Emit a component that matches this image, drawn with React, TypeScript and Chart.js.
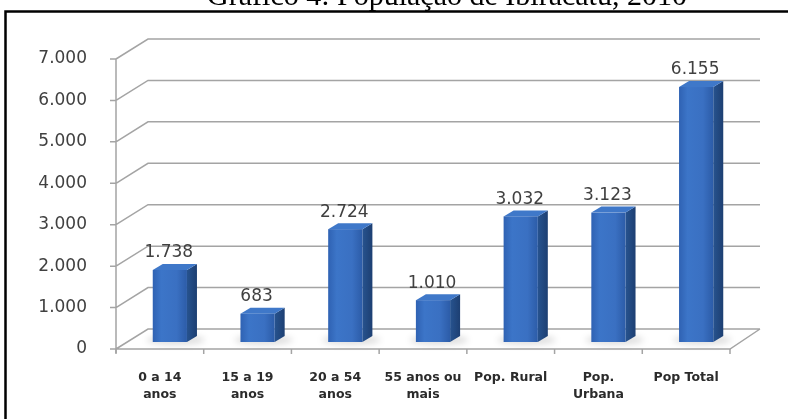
import React, { useEffect, useRef } from 'react';
import { Chart, registerables } from 'chart.js';

Chart.register(...registerables);

const TITLE = 'Gráfico 4: População de Ibiracatu, 2010';
const categories: string[][] = [
  ['0 a 14', 'anos'],
  ['15 a 19', 'anos'],
  ['20 a 54', 'anos'],
  ['55 anos ou', 'mais'],
  ['Pop. Rural'],
  ['Pop.', 'Urbana'],
  ['Pop Total'],
];
const values: number[] = [1738, 683, 2724, 1010, 3032, 3123, 6155];
const Y_MIN = 0;
const Y_MAX = 7000;
const Y_STEP = 1000;

const fmt = (v: number) => String(Math.round(v)).replace(/\B(?=(\d{3})+(?!\d))/g, '.');

// 3D geometry (pixels)
const WALL_DXL = 32;
const WALL_DXR = 30;
const WALL_DY = 20;
const BAR_SHIFT_X = 10;
const BAR_SHIFT_Y = -7;
const BAR_DX = 10;
const BAR_DY = 6;

const scenePlugin = {
  id: 'scene3d',
  beforeDraw(chart: any) {
    const { ctx, chartArea: a, scales } = chart;
    const y = scales.y;
    const x = scales.x;
    ctx.save();
    // title
    ctx.fillStyle = '#000';
    ctx.font = '30px "Liberation Serif", "Times New Roman", serif';
    ctx.textAlign = 'center';
    ctx.textBaseline = 'alphabetic';
    ctx.fillText(TITLE, 447, 5);
    // frame
    ctx.strokeStyle = '#000';
    ctx.lineWidth = 2.5;
    ctx.beginPath();
    ctx.moveTo(5.5, chart.height + 5);
    ctx.lineTo(5.5, 11.5);
    ctx.lineTo(chart.width + 5, 11.5);
    ctx.stroke();

    // back wall gridlines with left wall diagonals
    ctx.strokeStyle = '#a4a4a4';
    ctx.lineWidth = 1.5;
    ctx.beginPath();
    y.ticks.forEach((t: any) => {
      const py = y.getPixelForValue(t.value);
      ctx.moveTo(a.left, py);
      ctx.lineTo(a.left + WALL_DXL, py - WALL_DY);
      ctx.lineTo(a.right + WALL_DXR, py - WALL_DY);
    });
    // floor front and right edges
    const by = y.getPixelForValue(Y_MIN);
    ctx.moveTo(a.left, by);
    ctx.lineTo(a.right, by);
    ctx.lineTo(a.right + WALL_DXR, by - WALL_DY);
    // front y axis
    ctx.moveTo(a.left, y.getPixelForValue(Y_MAX));
    ctx.lineTo(a.left, by + 4);
    ctx.stroke();
    // y tick marks
    ctx.beginPath();
    y.ticks.forEach((t: any) => {
      const py = y.getPixelForValue(t.value);
      ctx.moveTo(a.left - 6, py);
      ctx.lineTo(a.left, py);
    });
    // x tick marks at category boundaries
    const n = categories.length;
    for (let i = 0; i <= n; i++) {
      const px = i === 0 ? a.left : i === n ? a.right : (x.getPixelForValue(i - 1) + x.getPixelForValue(i)) / 2;
      ctx.moveTo(px, by);
      ctx.lineTo(px, by + 5);
    }
    ctx.stroke();
    ctx.restore();
  },
  afterDatasetsDraw(chart: any) {
    const { ctx } = chart;
    const meta = chart.getDatasetMeta(0);
    ctx.save();
    // floor shadows
    meta.data.forEach((el: any) => {
      const w = el.width;
      const cx = el.x + BAR_SHIFT_X + 6;
      const cy = el.base + BAR_SHIFT_Y - 2;
      ctx.save();
      ctx.filter = 'blur(3px)';
      ctx.fillStyle = 'rgba(0,0,0,0.13)';
      ctx.beginPath();
      ctx.ellipse(cx, cy, w * 0.85, 5, 0, 0, Math.PI * 2);
      ctx.fill();
      ctx.restore();
    });
    meta.data.forEach((el: any, i: number) => {
      const w = el.width;
      const fx = el.x + BAR_SHIFT_X - w / 2;
      const top = el.y + BAR_SHIFT_Y;
      const base = el.base + BAR_SHIFT_Y;
      // side face
      const sg = ctx.createLinearGradient(fx + w, 0, fx + w + BAR_DX, 0);
      sg.addColorStop(0, '#27538f');
      sg.addColorStop(1, '#1d3f72');
      ctx.fillStyle = sg;
      ctx.beginPath();
      ctx.moveTo(fx + w, top);
      ctx.lineTo(fx + w + BAR_DX, top - BAR_DY);
      ctx.lineTo(fx + w + BAR_DX, base - BAR_DY);
      ctx.lineTo(fx + w, base);
      ctx.closePath();
      ctx.fill();
      // top face
      ctx.fillStyle = '#3f78c9';
      ctx.beginPath();
      ctx.moveTo(fx, top);
      ctx.lineTo(fx + BAR_DX, top - BAR_DY);
      ctx.lineTo(fx + w + BAR_DX, top - BAR_DY);
      ctx.lineTo(fx + w, top);
      ctx.closePath();
      ctx.fill();
      // front face
      const fg = ctx.createLinearGradient(fx, 0, fx + w, 0);
      fg.addColorStop(0, '#2f62b3');
      fg.addColorStop(0.25, '#3c75c8');
      fg.addColorStop(0.7, '#3a70c2');
      fg.addColorStop(1, '#2c5ca8');
      ctx.fillStyle = fg;
      ctx.fillRect(fx, top, w, base - top);
      // value label
      ctx.fillStyle = '#404040';
      ctx.font = '17px "DejaVu Sans", sans-serif';
      ctx.textAlign = 'center';
      ctx.textBaseline = 'middle';
      ctx.fillText(fmt(values[i]), el.x + BAR_SHIFT_X - 1, top - 17);
    });
    ctx.restore();
  },
};

export default function App() {
  const ref = useRef<HTMLCanvasElement | null>(null);
  useEffect(() => {
    document.body.style.margin = '0';
    const canvas = ref.current;
    if (!canvas) return;
    const chart = new Chart(canvas, {
      type: 'bar',
      data: {
        labels: categories,
        datasets: [
          {
            data: values,
            backgroundColor: 'rgba(0,0,0,0)',
            borderWidth: 0,
            categoryPercentage: 1,
            barPercentage: 0.39,
          },
        ],
      },
      options: {
        responsive: false,
        animation: false,
        devicePixelRatio: 1,
        layout: { padding: { left: 0, top: 59, right: 58, bottom: 0 } },
        plugins: {
          legend: { display: false },
          title: { display: false },
          tooltip: { enabled: false },
        },
        scales: {
          x: {
            grid: { display: false },
            border: { display: false },
            ticks: {
              autoSkip: false,
              maxRotation: 0,
              minRotation: 0,
              padding: 12,
              color: '#2b2b2b',
              font: { family: '"DejaVu Sans", sans-serif', size: 12.5, weight: 'bold', lineHeight: 1.35 },
            },
            afterFit: (s: any) => {
              s.height = 70;
            },
          },
          y: {
            min: Y_MIN,
            max: Y_MAX,
            grid: { display: false },
            border: { display: false },
            ticks: {
              stepSize: Y_STEP,
              padding: 21,
              color: '#404040',
              font: { family: '"DejaVu Sans", sans-serif', size: 17 },
              callback: (v: any) => fmt(Number(v)),
            },
            afterFit: (s: any) => {
              s.width = 116;
            },
          },
        },
      },
      plugins: [scenePlugin],
    } as any);
    return () => chart.destroy();
  }, []);
  return <canvas ref={ref} width={788} height={419} style={{ display: 'block' }} />;
}
